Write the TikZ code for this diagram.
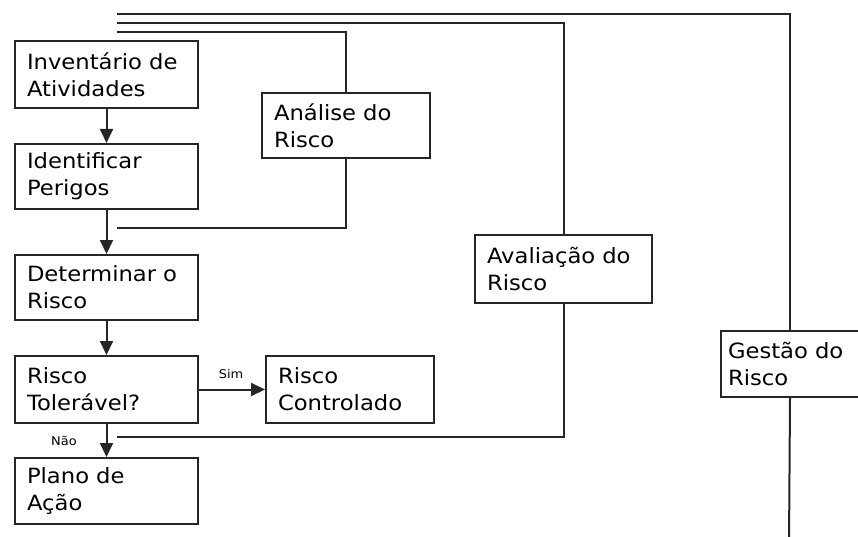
\documentclass[tikz,border=0pt]{standalone}
\usepackage{fontspec}
\setmainfont{DejaVu Sans}[FakeStretch=1.08]
\usetikzlibrary{arrows.meta}
\tikzset{
  caixa/.style={draw=black!85,line width=2pt,fill=white,align=left,inner xsep=12pt,inner ysep=0pt,anchor=north west,font=\fontsize{21}{27}\selectfont},
  seta/.style={line width=2pt,draw=black!85,-{Triangle[length=14pt,width=13pt]}},
  linha/.style={line width=2pt,draw=black!85},
  rotulo/.style={font=\fontsize{12}{14}\selectfont,inner sep=1pt}
}
\begin{document}
\begin{tikzpicture}[x=1pt,y=-1pt]
\useasboundingbox (0,0) rectangle (858,537);
\node[caixa,text width=159pt,minimum height=67pt] (inv) at (14,40) {Inventário de\\Atividades};
\node[caixa,text width=159pt,minimum height=65pt] (ident) at (14,143) {Identificar\\Perigos};
\node[caixa,text width=159pt,minimum height=65pt] (det) at (14,254) {Determinar o\\Risco};
\node[caixa,text width=159pt,minimum height=67pt] (tol) at (14,355) {Risco\\Tolerável?};
\node[caixa,text width=159pt,minimum height=66pt] (plano) at (14,457) {Plano de\\Ação};
\node[caixa,text width=144pt,minimum height=67pt] (contr) at (265,355) {Risco\\Controlado};
\node[caixa,text width=144pt,minimum height=65pt] (analise) at (261,92) {Análise do\\Risco};
\node[caixa,text width=153pt,minimum height=68pt] (aval) at (474,234) {Avaliação do\\Risco};
\node[caixa,inner xsep=7pt,text width=124pt,minimum height=66pt] (gest) at (720,330) {Gestão do\\Risco};

\node[rotulo] (sim) at (231,374) {Sim};
\node[rotulo] (nao) at (64,441) {Não};

\coordinate (g0) at (117,14);
\coordinate (g1) at (789,545);
\coordinate (v0) at (117,23);
\coordinate (v1) at (117,437);
\coordinate (a0) at (117,32);
\coordinate (a1) at (117,228);

\draw[seta] (inv) -- (ident);
\draw[seta] (ident) -- (det);
\draw[seta] (det) -- (tol);
\draw[seta] (tol) -- (plano);
\draw[seta] (tol) -- (contr);

\draw[linha] (a0) -| (analise.north);
\draw[linha] (analise.south) |- (a1);
\draw[linha] (v0) -| (aval.north);
\draw[linha] (aval.south) |- (v1);
\draw[linha] (g0) -| (gest.north);
\draw[linha] (gest.south) -- (g1);
\end{tikzpicture}
\end{document}
